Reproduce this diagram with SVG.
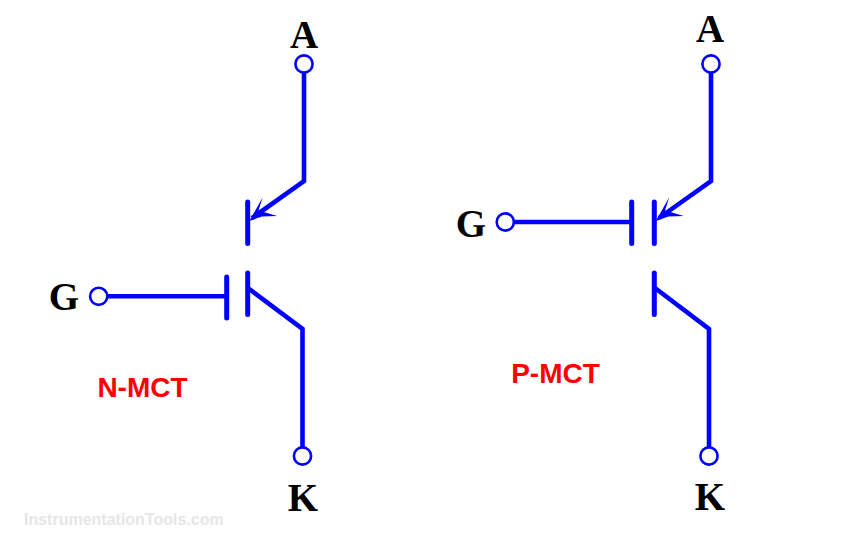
<svg xmlns="http://www.w3.org/2000/svg" width="860" height="556" viewBox="0 0 860 556">
<style>
.w{fill:none;stroke:#0000ff;stroke-width:4.6;stroke-linecap:butt;stroke-linejoin:miter}
.b{fill:none;stroke:#0000ff;stroke-width:5;stroke-linecap:round}
.t{fill:none;stroke:#0000ff;stroke-width:2.6}
.h{fill:#0000ff;stroke:none}
.l{font-family:"Liberation Serif",serif;font-weight:700;font-size:39px;fill:#000;text-anchor:middle}
.n{font-family:"Liberation Sans",Arial,sans-serif;font-weight:700;font-size:28px;fill:#ff0000;text-anchor:middle}
.m{font-family:"Liberation Sans",Arial,sans-serif;font-weight:700;font-size:16px;fill:#e6e6e6}
</style>
<rect width="860" height="556" fill="#fff"/>
<g id="connectors">
<path class="w" d="M304 73V181L252 218"/>
<path class="w" d="M248 288L302.500 329V447"/>
<path class="w" d="M108 296.300H226"/>
<path class="w" d="M711 73V181L659 218"/>
<path class="w" d="M655 288L709 329V447"/>
<path class="w" d="M514.500 222H631"/>
</g>
<g id="n-mct">
<path class="b" d="M247.700 202V243.500M247.700 273V314.500M226.700 277V318"/>
<path class="h" d="M249.300 221L262.700 197.300L258.500 210.500L277.300 216L262 216.500Z"/>
</g>
<g id="p-mct">
<path class="b" d="M654.300 202V243.500M654.300 273V314.500M631.700 202V243.500"/>
<path class="h" d="M655.800 221L669.200 197.300L665 210.500L683.800 216L668.500 216.500Z"/>
</g>
<g id="terminal-a-n"><circle class="t" cx="304" cy="64" r="8.600"/><text class="l" x="304" y="48">A</text></g>
<g id="terminal-g-n"><circle class="t" cx="98.700" cy="296.300" r="8.600"/><text class="l" x="64" y="310">G</text></g>
<g id="terminal-k-n"><circle class="t" cx="302.500" cy="456" r="8.600"/><text class="l" x="303" y="511">K</text></g>
<g id="terminal-a-p"><circle class="t" cx="711" cy="64" r="8.600"/><text class="l" x="710" y="42">A</text></g>
<g id="terminal-g-p"><circle class="t" cx="505.300" cy="222" r="8.600"/><text class="l" x="471" y="237">G</text></g>
<g id="terminal-k-p"><circle class="t" cx="709" cy="456" r="8.600"/><text class="l" x="710" y="510">K</text></g>
<text class="n" x="142.500" y="397">N-MCT</text>
<text class="n" x="555.500" y="383">P-MCT</text>
<text class="m" x="24" y="525">InstrumentationTools.com</text>
</svg>
